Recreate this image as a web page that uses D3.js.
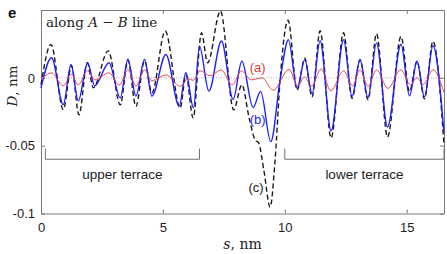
<!DOCTYPE html>
<html>
<head>
<meta charset="utf-8">
<script src="https://cdn.jsdelivr.net/npm/d3@7"></script>
<style>
  body { margin: 0; background: #fff; }
  text { font-family: "Liberation Sans", Arial, sans-serif; }
  .serif { font-family: "DejaVu Serif", serif; }
</style>
</head>
<body>
<div id="chart"></div>
<script>
// Controlling Constant
const svgWidth = 447,
  svgHeight = 254;
const margin = { top: 10, right: 3, bottom: 40.5, left: 41 },
  width = svgWidth - margin.left - margin.right,
  height = svgHeight - margin.top - margin.bottom;

// curve (a): red, thin
const sA = [0, 0.434, 0.914, 1.254, 1.529, 1.91, 2.213, 2.787, 3.209, 3.566, 3.893, 4.246, 4.549,
  5.135, 5.709, 6.037, 6.242, 6.529, 6.939, 7.389, 7.84, 8.221, 8.619, 9.07, 9.52, 10.176, 10.525,
  10.811, 11.098, 11.488, 11.885, 12.41, 12.779, 13.086, 13.414, 13.762, 14.234, 14.754, 15.156,
  15.41, 15.689, 16.078, 16.53];
const dA = [-0.0013, 0.0037, -0.0059, 0.0026, -0.0052, 0.0052, -0.0015, 0.0037, -0.0054, 0.0059,
  -0.0061, 0.0059, -0.0022, 0.0022, -0.0063, -0.0007, -0.0018, 0.0052, 0.0015, 0.0059, -0.0052,
  0.0052, -0.0015, 0.0, -0.0092, 0.0063, -0.0061, 0.0007, -0.0061, 0.0066, -0.0096, 0.0052,
  -0.0059, 0.0059, -0.0063, 0.0059, -0.0078, 0.0059, -0.0052, 0.0, -0.0048, 0.0059, -0.0109];

// curve (b): blue
const sB = [0, 0.434, 0.914, 1.23, 1.529, 1.91, 2.205, 2.787, 3.25, 3.566, 3.893, 4.246, 4.549,
  5.123, 5.668, 5.943, 6.254, 6.5, 6.885, 7.402, 7.881, 8.238, 8.701, 9.008, 9.426, 9.807, 10.148,
  10.504, 10.82, 11.119, 11.447, 11.898, 12.41, 12.758, 13.086, 13.414, 13.762, 14.213, 14.766,
  15.115, 15.422, 15.73, 16.078, 16.53];
const dB = [-0.0074, 0.0148, -0.0197, 0.0098, -0.017, 0.0111, -0.0059, 0.0111, -0.0148, 0.0137,
  -0.0135, 0.0135, -0.0135, 0.0172, -0.0209, 0.0037, -0.0222, 0.0234, -0.0098, 0.0271, -0.0159,
  0.0122, -0.0218, -0.01, -0.047, -0.0015, 0.0281, -0.0078, 0.0133, -0.0118, 0.0273, -0.0391,
  0.0281, -0.0137, 0.0133, -0.0148, 0.0258, -0.0362, 0.0247, -0.0133, 0.0122, -0.014, 0.0236,
  -0.0406];

// curve (c): black dashed
const sC = [0, 0.41, 0.914, 1.254, 1.557, 1.898, 2.143, 2.758, 3.25, 3.566, 3.893, 4.246, 4.549,
  5.094, 5.709, 5.943, 6.242, 6.582, 6.836, 7.361, 7.902, 8.238, 8.537, 8.783, 8.926, 9.152, 9.398,
  9.602, 9.807, 10.135, 10.504, 10.82, 11.119, 11.447, 11.898, 12.41, 12.758, 13.086, 13.414,
  13.762, 14.213, 14.766, 15.115, 15.422, 15.73, 16.078, 16.53];
const dC = [-0.0052, 0.0246, -0.0234, 0.0089, -0.0273, 0.0111, -0.0074, 0.0199, -0.0199, 0.0129,
  -0.021, 0.0126, -0.0111, 0.0345, -0.0222, 0.0022, -0.0295, 0.0332, 0.0111, 0.0493, -0.0236,
  -0.0052, -0.0295, -0.0458, -0.048, -0.0694, -0.0953, -0.0606, -0.0015, 0.0425, -0.0089, 0.0144,
  -0.014, 0.0347, -0.0443, 0.0332, -0.0151, 0.0133, -0.0162, 0.0325, -0.0436, 0.0305, -0.0103,
  0.0122, -0.0155, 0.027, -0.0495];

const xTicks = [0, 5, 10, 15];
const yTicks = [-0.1, -0.05, 0];
const yTickLabels = ["-0.1", "-0.05", "0"];

// terrace brackets (s range) and the height they sit at
const upperTerrace = [0.18, 6.5];
const lowerTerrace = [10, 16.53];
const bracketD = -0.06, bracketTopD = -0.0522, terraceLabelD = -0.0745;

const svg = d3
  .select("#chart")
  .append("svg")
  .attr("width", svgWidth)
  .attr("height", svgHeight)
  .append("g")
  .attr("transform", "translate(" + margin.left + "," + margin.top + ")");

const x = d3.scaleLinear().domain([0, 16.53]).range([0, width]);
const y = d3.scaleLinear().domain([-0.1, 0.05]).range([height, 0]);

const axisColor = "#7a7a7a";

// zero line
svg.append("line")
  .attr("x1", 0).attr("x2", width)
  .attr("y1", y(0)).attr("y2", y(0))
  .attr("stroke", "#b0b0b0")
  .attr("stroke-dasharray", "1,1.5");

// axes
const axBottom = svg.append("g")
  .attr("transform", "translate(0," + height + ")")
  .call(d3.axisBottom(x).tickValues(xTicks).tickSizeInner(-4).tickSizeOuter(0).tickPadding(9));
const axTop = svg.append("g")
  .call(d3.axisTop(x).tickValues(xTicks).tickSizeInner(-4).tickSizeOuter(0).tickFormat(""));
const axLeft = svg.append("g")
  .call(d3.axisLeft(y).tickValues(yTicks).tickSizeInner(-4).tickSizeOuter(0).tickPadding(6)
    .tickFormat((d, i) => yTickLabels[i]));
const axRight = svg.append("g")
  .attr("transform", "translate(" + width + ",0)")
  .call(d3.axisRight(y).tickValues(yTicks).tickSizeInner(-4).tickSizeOuter(0).tickFormat(""));

[axBottom, axTop, axLeft, axRight].forEach(function (g) {
  g.selectAll("path, line").attr("stroke", axisColor);
  g.selectAll("text")
    .style("font-family", "'Liberation Sans', Arial, sans-serif")
    .style("font-size", "13px")
    .attr("fill", "#222");
});

// curves
const line = d3.line()
  .x((d) => x(d[0]))
  .y((d) => y(d[1]))
  .curve(d3.curveMonotoneX);

const series = [
  { s: sC, d: dC, color: "#1a1a1a", w: 1.4, dash: "5,3" },
  { s: sB, d: dB, color: "#1f1fff", w: 1.4, dash: null },
  { s: sA, d: dA, color: "#e53935", w: 0.9, dash: null },
];

svg.selectAll("path.curve")
  .data(series)
  .enter()
  .append("path")
  .attr("class", "curve")
  .attr("fill", "none")
  .attr("stroke", (d) => d.color)
  .attr("stroke-width", (d) => d.w)
  .attr("stroke-dasharray", (d) => d.dash)
  .attr("d", (d) => line(d.s.map((v, i) => [v, d.d[i]])));

// curve labels
const curveLabels = [
  { t: "(a)", s: 8.885, d: 0.0078, color: "#e53935" },
  { t: "(b)", s: 8.885, d: -0.031, color: "#1f1fff" },
  { t: "(c)", s: 8.82, d: -0.0805, color: "#222" },
];
svg.selectAll("text.clabel")
  .data(curveLabels)
  .enter()
  .append("text")
  .attr("class", "clabel")
  .attr("x", (d) => x(d.s))
  .attr("y", (d) => y(d.d))
  .attr("text-anchor", "middle")
  .attr("dominant-baseline", "central")
  .attr("font-size", 13)
  .attr("fill", (d) => d.color)
  .text((d) => d.t);

// terrace brackets
[
  { r: upperTerrace, label: "upper terrace" },
  { r: lowerTerrace, label: "lower terrace" },
].forEach(function (b) {
  const x0 = x(b.r[0]), x1 = x(b.r[1]);
  svg.append("path")
    .attr("fill", "none")
    .attr("stroke", "#6e6e6e")
    .attr("d", `M${x0},${y(bracketTopD)}V${y(bracketD)}H${x1}V${y(bracketTopD)}`);
  svg.append("text")
    .attr("x", (x0 + x1) / 2)
    .attr("y", y(terraceLabelD))
    .attr("text-anchor", "middle")
    .attr("font-size", 13.5)
    .attr("fill", "#222")
    .text(b.label);
});

// titles
const note = svg.append("text")
  .attr("class", "serif")
  .attr("x", 5)
  .attr("y", 16.7)
  .attr("font-size", 13.5)
  .attr("fill", "#222");
note.append("tspan").text("along ");
note.append("tspan").attr("font-style", "italic").text("A");
note.append("tspan").text(" \u2212 ");
note.append("tspan").attr("font-style", "italic").text("B");
note.append("tspan").text(" line");

const xl = svg.append("text")
  .attr("class", "serif")
  .attr("x", width / 2)
  .attr("y", height + 35.5)
  .attr("text-anchor", "middle")
  .attr("font-size", 14)
  .attr("fill", "#222");
xl.append("tspan").attr("font-style", "italic").text("s");
xl.append("tspan").text(", nm");

const yl = svg.append("text")
  .attr("class", "serif")
  .attr("transform", "translate(" + (16.5 - margin.left) + "," + (86 - margin.top) + ") rotate(-90)")
  .attr("text-anchor", "middle")
  .attr("font-size", 13.5)
  .attr("fill", "#222");
yl.append("tspan").attr("font-style", "italic").text("D");
yl.append("tspan").text(", nm");

svg.append("text")
  .attr("x", 8 - margin.left)
  .attr("y", 17.5 - margin.top)
  .attr("font-size", 15)
  .attr("font-weight", "bold")
  .attr("fill", "#111")
  .text("e");
</script>
</body>
</html>
